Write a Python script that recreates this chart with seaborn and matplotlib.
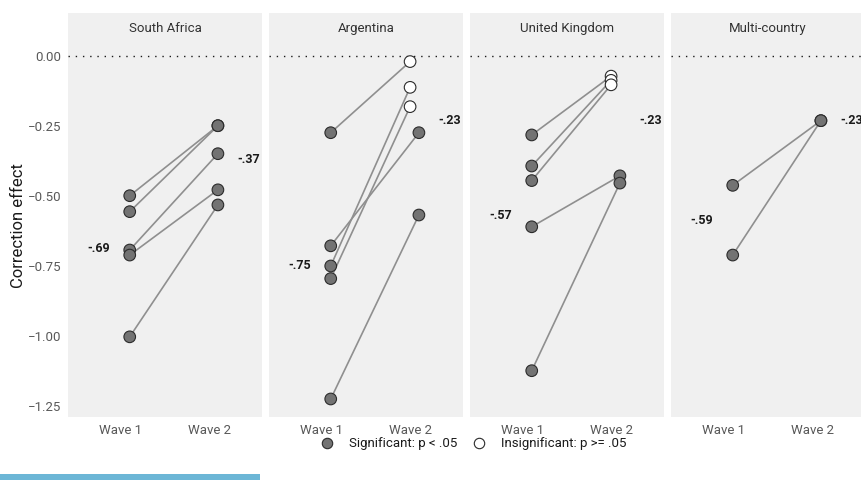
import matplotlib
matplotlib.use("Agg")
import matplotlib.pyplot as plt
from matplotlib.lines import Line2D
from matplotlib.patches import Rectangle
import seaborn as sns
import pandas as pd

sns.set_theme(style="white")
plt.rcParams["font.family"] = ["Roboto", "DejaVu Sans"]

# Panels (studies) and the two measurement waves
panels = ["South Africa", "Argentina", "United Kingdom", "Multi-country"]
waves = ["Wave 1", "Wave 2"]

# Correction effects per experiment: wave 1 and wave 2 values, paired by position
sa_w1 = [-0.500, -0.557, -0.694, -0.712, -1.004]
sa_w2 = [-0.250, -0.250, -0.350, -0.479, -0.533]
sa_sig2 = [True, True, True, True, True]

ar_w1 = [-0.275, -0.679, -0.751, -0.796, -1.226]
ar_w2 = [-0.021, -0.275, -0.113, -0.182, -0.569]
ar_sig2 = [False, True, False, False, True]

uk_w1 = [-0.283, -0.394, -0.446, -0.611, -1.125]
uk_w2 = [-0.073, -0.088, -0.104, -0.429, -0.455]
uk_sig2 = [False, False, False, True, True]

mc_w1 = [-0.463, -0.712]
mc_w2 = [-0.232, -0.232]
mc_sig2 = [True, True]

# Mean correction effect per panel and wave (printed beside each column)
mean_w1 = [-0.69, -0.75, -0.57, -0.59]
mean_w2 = [-0.37, -0.23, -0.23, -0.23]
mean_w1_text = ["-.69", "-.75", "-.57", "-.59"]
mean_w2_text = ["-.37", "-.23", "-.23", "-.23"]

y_ticks = [0.00, -0.25, -0.50, -0.75, -1.00, -1.25]
y_tick_labels = ["0.00", "\u22120.25", "\u22120.50", "\u22120.75", "\u22121.00", "\u22121.25"]

legend_labels = ["Significant: p < .05", "Insignificant: p >= .05"]

series = [
    (sa_w1, sa_w2, sa_sig2),
    (ar_w1, ar_w2, ar_sig2),
    (uk_w1, uk_w2, uk_sig2),
    (mc_w1, mc_w2, mc_sig2),
]

rows = []
for panel, (w1, w2, sig2) in zip(panels, series):
    for i, (a, b, s) in enumerate(zip(w1, w2, sig2)):
        rows.append(dict(panel=panel, pair=i, wave=1, value=a, sig=True))
        rows.append(dict(panel=panel, pair=i, wave=2, value=b, sig=s))
df = pd.DataFrame(rows)
# significant estimates are nudged slightly to the right of the wave position
df["xpos"] = df["wave"] + df["sig"].map({True: 0.1, False: 0.0})
df["status"] = df["sig"].map({True: legend_labels[0], False: legend_labels[1]})

FILL_SIG = "#737373"
FILL_INS = "#ffffff"
EDGE = "#2b2b2b"
LINE = "#8f8f8f"
PANEL_BG = "#f0f0f0"

W, H = 861, 480
fig = plt.figure(figsize=(W / 100, H / 100), dpi=100)

ax_w = 194
ax_lefts = [68, 269, 470, 671]
ax_top, ax_bot = 13, 417
y_zero_px, px_per_unit = 55.7, 280.0
ylim = (-(ax_bot - y_zero_px) / px_per_unit, (y_zero_px - ax_top) / px_per_unit)

for k, panel in enumerate(panels):
    ax = fig.add_axes([ax_lefts[k] / W, (H - ax_bot) / H, ax_w / W, (ax_bot - ax_top) / H])
    ax.set_facecolor(PANEL_BG)
    sub = df[df["panel"] == panel]

    ax.axhline(0, color="#1a1a1a", linestyle=(0, (1, 4.2)), linewidth=1.0, zorder=1)

    sns.lineplot(data=sub, x="xpos", y="value", units="pair", estimator=None,
                 color=LINE, linewidth=1.2, ax=ax, legend=False, zorder=2, sort=False)
    sns.scatterplot(data=sub, x="xpos", y="value", hue="status",
                    palette={legend_labels[0]: FILL_SIG, legend_labels[1]: FILL_INS},
                    s=70, edgecolor=EDGE, linewidth=0.8, ax=ax, legend=False, zorder=3)

    ax.text(0.75, mean_w1[k], mean_w1_text[k], ha="center", va="center",
            fontsize=9, fontweight="bold", color="#1a1a1a", zorder=4)
    ax.text(2.45, mean_w2[k], mean_w2_text[k], ha="center", va="center",
            fontsize=9, fontweight="bold", color="#1a1a1a", zorder=4, clip_on=False)

    ax.text(0.5, 0.962, panel, transform=ax.transAxes, ha="center", va="center",
            fontsize=9.5, color="#333333")

    ax.set_xlim(0.4, 2.6)
    ax.set_ylim(*ylim)
    ax.set_xticks([1, 2])
    ax.set_xticklabels(waves)
    ax.set_yticks(y_ticks)
    if k == 0:
        ax.set_yticklabels(y_tick_labels)
        ax.set_ylabel("Correction effect", fontsize=12, color="#1a1a1a")
        ax.yaxis.set_label_coords(-0.216, 0.475)
    else:
        ax.set_yticklabels([])
        ax.set_ylabel("")
    ax.set_xlabel("")
    ax.tick_params(axis="both", length=0, labelsize=9.5, labelcolor="#595959", pad=5)
    for sp in ax.spines.values():
        sp.set_visible(False)
    ax.grid(False)

# legend below the panels
handles = [
    Line2D([], [], marker="o", linestyle="none", markersize=7.5,
           markerfacecolor=FILL_SIG, markeredgecolor=EDGE, markeredgewidth=0.8),
    Line2D([], [], marker="o", linestyle="none", markersize=7.5,
           markerfacecolor=FILL_INS, markeredgecolor=EDGE, markeredgewidth=0.8),
]
fig.legend(handles, legend_labels, loc="center", ncol=2, frameon=False,
           bbox_to_anchor=(473.5 / W, 1 - 444 / H), fontsize=9.5,
           handlelength=1.0, handletextpad=1.17, columnspacing=1.17,
           borderpad=0, borderaxespad=0, labelcolor="#1a1a1a")

# thin accent bar along the bottom edge
fig.patches.append(Rectangle((0, 0), 260 / W, 6 / H, transform=fig.transFigure,
                             facecolor="#6cb6d6", edgecolor="none"))

fig.savefig("out.png", dpi=100)
